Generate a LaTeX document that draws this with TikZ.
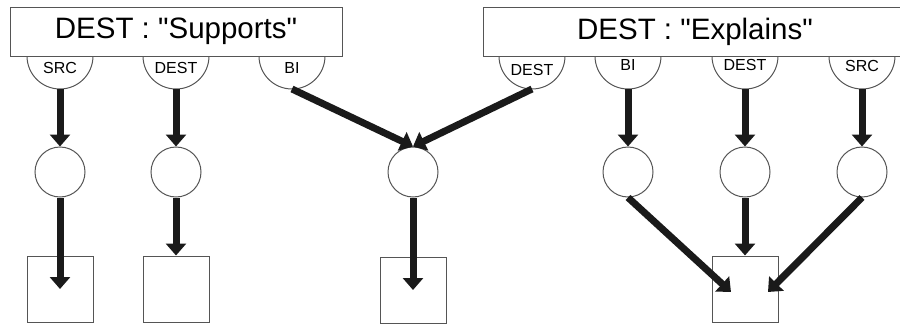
\documentclass[tikz,border=0pt]{standalone}
\usepackage{fontspec}
\setmainfont{Liberation Sans}[Ligatures=TeXOff]
\usetikzlibrary{arrows.meta}
\definecolor{arr}{HTML}{1A1A1A}
\definecolor{edge}{HTML}{555555}
\tikzset{
  header/.style={draw=edge, line width=1pt, fill=white, inner sep=0pt, font=\fontsize{29.5}{33}\selectfont},
  port/.style={draw=edge, line width=1pt, fill=white},
  portlabel/.style={inner sep=0pt, font=\fontsize{16}{18}\selectfont},
  dot/.style={circle, draw=edge, line width=1pt, minimum size=50pt, inner sep=0pt},
  box/.style={rectangle, draw=edge, line width=1pt, minimum size=66pt, inner sep=0pt},
  flow/.style={draw=arr, line width=7pt, -{Triangle[width=20pt,length=12pt]}},
}
\begin{document}
\begin{tikzpicture}[x=1pt,y=1pt]
\useasboundingbox (0,0) rectangle (900,-324);
\clip (0,0) rectangle (900,-324);
% semicircles (ports)
\foreach \px in {60,176,292,532,628,745,862}{
  \draw[port] (\px-33,-56) arc[start angle=180,end angle=360,radius=33] -- cycle;
}
% headers
\node[header, minimum width=332pt, minimum height=49pt] (h1) at (176,-31.5) {DEST : "Supports"};
\node[header, minimum width=424pt, minimum height=49pt] (h2) at (695,-31.5) {DEST : "Explains"};
% port labels
\node[portlabel] (p1) at (60,-68) {SRC};
\node[portlabel] (p2) at (176,-68) {DEST};
\node[portlabel] (p3) at (292,-68) {BI};
\node[portlabel] (p4) at (532,-70) {DEST};
\node[portlabel] (p5) at (628,-65) {BI};
\node[portlabel] (p6) at (745,-65) {DEST};
\node[portlabel] (p7) at (862,-66) {SRC};
% port bottoms
\coordinate (b1) at (60,-89);
\coordinate (b2) at (176,-89);
\coordinate (b3) at (292,-89);
\coordinate (b4) at (532,-89);
\coordinate (b5) at (628,-89);
\coordinate (b6) at (745,-89);
\coordinate (b7) at (862,-89);
% circles
\node[dot] (c1) at (60,-172) {};
\node[dot] (c2) at (176,-172) {};
\node[dot] (c3) at (413,-172) {};
\node[dot] (c5) at (628,-172) {};
\node[dot] (c6) at (745,-172) {};
\node[dot] (c7) at (862,-172) {};
% squares
\node[box] (q1) at (60,-289) {};
\node[box] (q2) at (176,-289) {};
\node[box] (q3) at (413,-290) {};
\node[box] (q4) at (745,-289) {};
\coordinate (t1) at ([xshift=-14pt,yshift=-3pt]q4.center);
\coordinate (t2) at ([xshift=23pt,yshift=-3pt]q4.center);
% arrows
\draw[flow] (b1) -- (c1.north);
\draw[flow] (c1.south) -- (q1.center);
\draw[flow] (b2) -- (c2.north);
\draw[flow] (c2.south) -- (q2.north);
\draw[flow] (b3) -- (c3.north);
\draw[flow] (b4) -- (c3.north);
\draw[flow] (c3.south) -- (q3.center);
\draw[flow] (b5) -- (c5.north);
\draw[flow] (c5.south) -- (t1);
\draw[flow] (b6) -- (c6.north);
\draw[flow] (c6.south) -- (q4.north);
\draw[flow] (b7) -- (c7.north);
\draw[flow] (c7.south) -- (t2);
\end{tikzpicture}
\end{document}
